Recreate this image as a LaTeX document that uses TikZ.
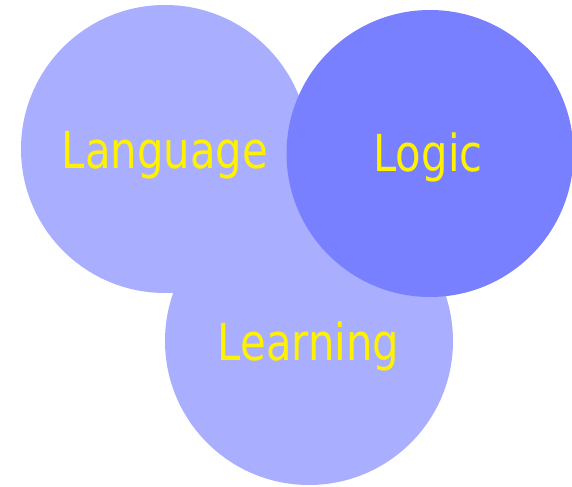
\documentclass[tikz,border=0pt]{standalone}
\usepackage{fontspec}
\newfontfamily\vennfont[FakeStretch=0.82]{DejaVu Sans}
\definecolor{softblue}{HTML}{AAAEFF}
\definecolor{deepblue}{HTML}{7880FF}
\tikzset{
    venntext/.style={text=yellow, inner sep=0pt, anchor=base, font=\vennfont\fontsize{29}{31}\selectfont}
}
\begin{document}
\begin{tikzpicture}[x=0.02cm, y=0.02cm]
\useasboundingbox (0,0) rectangle (572,487);

% Circles (Logic on top)
\fill[softblue] (309,146) circle (144);
\fill[softblue] (165,338) circle (144);
\fill[deepblue] (430,333.5) circle (143.5);

% Labels
\node[venntext] (language) at (165,318) {Language};
\node[venntext] (logic) at (428,315) {Logic};
\node[venntext] (learning) at (308.5,126) {Learning};

\end{tikzpicture}
\end{document}
